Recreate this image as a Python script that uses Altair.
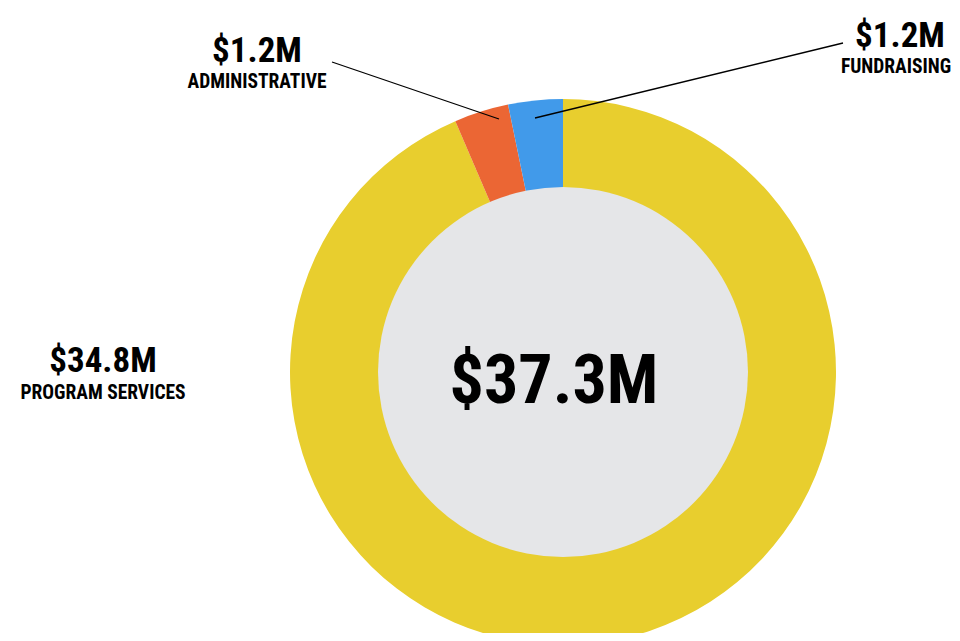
import altair as alt
import pandas as pd
import math

# ---- data ----
categories = ["Program Services", "Administrative", "Fundraising"]
values = [34.8, 1.2, 1.2]          # $ millions
value_labels = ["$34.8M", "$1.2M", "$1.2M"]
name_labels = ["PROGRAM SERVICES", "ADMINISTRATIVE", "FUNDRAISING"]
total_label = "$37.3M"
colors = ["#E8CE2E", "#EB6634", "#419AEA"]

df = pd.DataFrame({"category": categories, "value": values, "order": [0, 1, 2]})
one = pd.DataFrame({"v": [1]})

W, H = 944, 625
cx, cy = 555, 364
R_OUT, R_IN = 273, 185
FONT = "Liberation Sans Narrow, Roboto Condensed, DejaVu Sans Condensed, sans-serif"

ring = alt.Chart(df).mark_arc(outerRadius=R_OUT, innerRadius=0).encode(
    theta=alt.Theta("value:Q", stack=True),
    color=alt.Color("category:N", scale=alt.Scale(domain=categories, range=colors), legend=None),
    order=alt.Order("order:Q"),
    x=alt.value(cx),
    y=alt.value(cy),
)

hole = alt.Chart(one).mark_arc(
    outerRadius=R_IN, color="#E5E6E8", theta=0, theta2=2 * math.pi
).encode(
    x=alt.value(cx),
    y=alt.value(cy),
)

def rule(x1, y1, x2, y2):
    return alt.Chart(one).mark_rule(color="black", strokeWidth=1.3).encode(
        x=alt.value(x1), y=alt.value(y1), x2=alt.value(x2), y2=alt.value(y2)
    )

def text(t, x, y, size):
    return alt.Chart(one).mark_text(
        text=t, font=FONT, fontWeight="bold", fontSize=size,
        align="center", baseline="alphabetic", color="black"
    ).encode(x=alt.value(x), y=alt.value(y))

layers = [
    ring,
    hole,
    rule(324, 54, 491, 111),
    rule(835, 35, 527, 110),
    text(total_label, 546, 395, 68),
    text(value_labels[0], 95, 364, 35),
    text(name_labels[0], 95, 391, 19.5),
    text(value_labels[1], 249, 54, 35),
    text(name_labels[1], 249, 80, 19.5),
    text(value_labels[2], 892, 39, 35),
    text(name_labels[2], 888, 65, 19.5),
]

chart = alt.layer(*layers).properties(
    width=W, height=H, padding=0,
    autosize=alt.AutoSizeParams(type="none"),
    background="white",
).configure_view(stroke=None)

chart.save("out.html", embed_options={"renderer": "svg", "actions": False})
